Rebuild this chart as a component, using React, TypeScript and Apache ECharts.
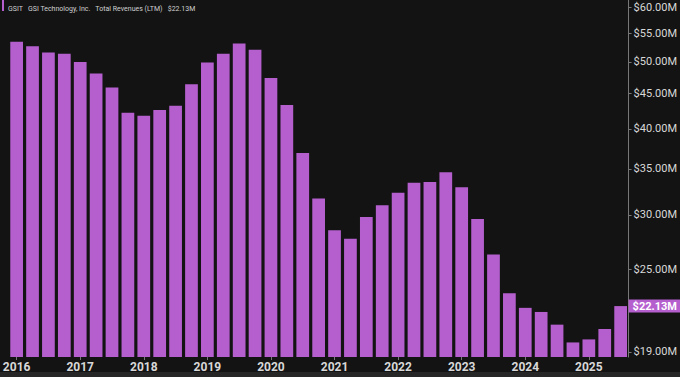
import React, { useEffect, useRef } from "react";
import * as echarts from "echarts";

const years = [2016, 2017, 2018, 2019, 2020, 2021, 2022, 2023, 2024, 2025];
const quarters = years.flatMap((y) => ["Q1", "Q2", "Q3", "Q4"].map((q) => `${y} ${q}`)).slice(0, 39);

// Total Revenues (LTM), $M
const revenues = [
  53.5, 52.7, 51.6, 51.4, 50.0, 48.1, 45.9, 42.2, 41.8, 42.6,
  43.2, 46.4, 49.9, 51.4, 53.2, 52.1, 47.4, 43.3, 36.9, 31.7,
  28.5, 27.7, 29.8, 31.0, 32.3, 33.4, 33.5, 34.6, 32.9, 29.6,
  26.3, 23.1, 22.0, 21.7, 20.8, 19.6, 19.8, 20.5, 22.13,
];

const yTicks = [19, 25, 30, 35, 40, 45, 50, 55, 60];
const lastValue = 22.13;

const BAR = "#b55fcf";
const BG = "#131313";

export default function App() {
  const ref = useRef<HTMLDivElement>(null);
  useEffect(() => {
    document.body.style.margin = "0";
    document.body.style.background = BG;
    const chart = echarts.init(ref.current!, null, { renderer: "svg" });
    chart.setOption({
      animation: false,
      backgroundColor: BG,
      textStyle: { fontFamily: "Roboto, 'Noto Sans', sans-serif" },
      title: {
        text: "GSIT   GSI Technology, Inc.   Total Revenues (LTM)   $22.13M",
        left: 3,
        top: 0,
        textStyle: { color: "#d0d0d0", fontSize: 7, fontWeight: "normal" },
      },
      graphic: [
        { type: "rect", left: 2, top: 0, shape: { width: 2, height: 11 }, style: { fill: BAR } },
        { type: "rect", left: 0, top: 372, shape: { width: 680, height: 5 }, style: { fill: "#262626" } },
      ],
      grid: { left: 1.4, right: 48.4, top: 0, bottom: 20, containLabel: false },
      xAxis: {
        type: "category",
        data: quarters,
        axisLine: { show: false },
        axisTick: {
          show: true,
          alignWithLabel: true,
          interval: (i: number) => i % 4 === 0,
          length: 3,
          lineStyle: { color: "#777" },
        },
        axisLabel: {
          interval: (i: number) => i % 4 === 0,
          formatter: (v: string) => v.slice(0, 4),
          color: "#d8d8d8",
          fontSize: 12,
          fontWeight: "bold",
          margin: 4,
        },
      },
      yAxis: {
        type: "log",
        logBase: 10,
        position: "right",
        min: 18.67,
        max: 61.5,
        splitLine: { show: false },
        axisLine: { show: true, lineStyle: { color: "#777" } },
        axisTick: { show: true, length: 3, lineStyle: { color: "#777" }, customValues: yTicks },
        axisLabel: {
          customValues: yTicks,
          color: "#d8d8d8",
          fontSize: 11,
          margin: 5,
          formatter: (v: number) => `$${v.toFixed(2)}M`,
        },
      },
      series: [
        {
          type: "bar",
          data: revenues,
          barCategoryGap: "20%",
          itemStyle: { color: BAR },
          markLine: {
            silent: true,
            symbol: "none",
            clip: false,
            lineStyle: { width: 1, color: "rgba(0,0,0,0)", type: "solid" },
            data: [{ yAxis: lastValue }],
            label: {
              show: true,
              position: "end",
              distance: 0,
              formatter: () => `$${lastValue.toFixed(2)}M`,
              color: "#ffffff",
              fontSize: 11,
              fontWeight: "bold",
              backgroundColor: BAR,
              padding: [1, 6, 1, 4],
            },
          },
        },
      ],
    });
    return () => chart.dispose();
  }, []);
  return <div ref={ref} style={{ width: 680, height: 377 }} />;
}
